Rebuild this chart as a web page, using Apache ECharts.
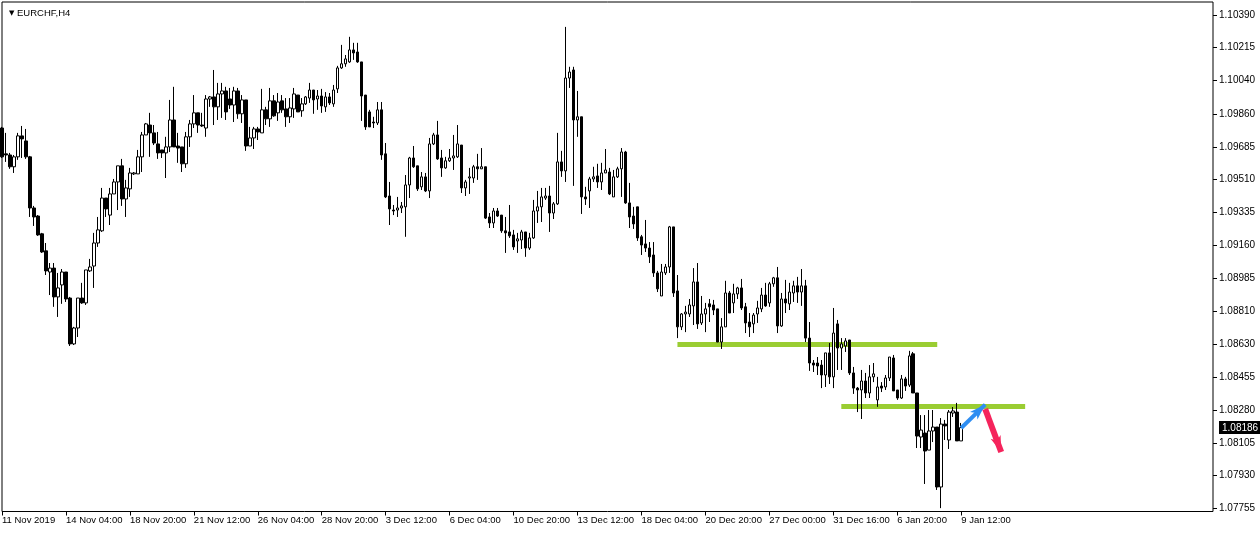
<!DOCTYPE html>
<html>
<head>
<meta charset="utf-8">
<script src="https://cdn.jsdelivr.net/npm/echarts@6/dist/echarts.min.js"></script>
<style>
html,body{margin:0;padding:0;background:#ffffff;}
#chart{width:1260px;height:533px;}
</style>
</head>
<body>
<div id="chart"></div>
<script>
// ---------------- data ----------------
const symbolName = 'EURCHF,H4';

const opens = [
1.09786,1.09648,1.09642,1.09579,1.09632,1.09744,1.09717,1.09632,1.09359,1.09316,
1.09221,1.09130,1.09017,1.09038,1.08884,1.08948,1.09017,1.08878,1.08633,1.08718,
1.08878,1.08852,1.09023,1.09049,1.09172,1.09237,1.09412,1.09321,1.09434,1.09498,
1.09584,1.09407,1.09461,1.09541,1.09541,1.09632,1.09749,1.09802,1.09760,1.09701,
1.09669,1.09653,1.09685,1.09829,1.09690,1.09685,1.09595,1.09739,1.09808,1.09867,
1.09802,1.09786,1.09941,1.09952,1.09899,1.09968,1.09984,1.09941,1.09909,1.09984,
1.09862,1.09936,1.09690,1.09733,1.09781,1.09760,1.09883,1.09835,1.09931,1.09867,
1.09931,1.09888,1.09846,1.09888,1.09962,1.09878,1.09915,1.09946,1.09989,1.09941,
1.09957,1.09899,1.09952,1.09915,1.09995,1.10107,1.10129,1.10139,1.10203,1.10192,
1.10139,1.09962,1.09872,1.09818,1.09813,1.09883,1.09648,1.09423,1.09348,1.09348,
1.09359,1.09365,1.09482,1.09626,1.09584,1.09472,1.09525,1.09450,1.09701,1.09749,
1.09626,1.09573,1.09611,1.09626,1.09632,1.09695,1.09466,1.09519,1.09519,1.09579,
1.09568,1.09579,1.09311,1.09279,1.09343,1.09321,1.09237,1.09231,1.09215,1.09183,
1.09188,1.09231,1.09145,1.09199,1.09343,1.09365,1.09412,1.09423,1.09332,1.09381,
1.09605,1.09557,1.10053,1.10096,1.09829,1.09846,1.09418,1.09450,1.09514,1.09530,
1.09498,1.09546,1.09551,1.09418,1.09525,1.09568,1.09658,1.09386,1.09316,1.09365,
1.09205,1.09167,1.09145,1.09108,1.09012,1.08889,1.09012,1.09044,1.09258,1.08916,
1.08724,1.08793,1.08793,1.08836,1.08964,1.08745,1.08793,1.08847,1.08841,1.08820,
1.08643,1.08724,1.08905,1.08852,1.08900,1.08932,1.08831,1.08750,1.08740,1.08793,
1.08820,1.08894,1.08852,1.08954,1.08986,1.08729,1.08873,1.08847,1.08905,1.08943,
1.08910,1.08943,1.08664,1.08531,1.08531,1.08520,1.08467,1.08585,1.08457,1.08740,
1.08611,1.08622,1.08654,1.08478,1.08397,1.08387,1.08435,1.08371,1.08457,1.08334,
1.08408,1.08403,1.08451,1.08558,1.08387,1.08344,1.08446,1.08413,1.08580,1.08371,
1.08136,1.08157,1.08066,1.08168,1.08189,1.07869,1.08205,1.08120,1.08264,1.08269,
1.08115
];

const closes = [
1.09632,1.09642,1.09579,1.09632,1.09744,1.09728,1.09632,1.09359,1.09311,1.09215,
1.09124,1.09023,1.09038,1.08884,1.08932,1.09017,1.08873,1.08633,1.08718,1.08878,
1.08852,1.09028,1.09044,1.09172,1.09242,1.09412,1.09354,1.09434,1.09498,1.09584,
1.09407,1.09466,1.09546,1.09546,1.09632,1.09749,1.09808,1.09760,1.09706,1.09653,
1.09653,1.09685,1.09829,1.09685,1.09679,1.09595,1.09739,1.09808,1.09867,1.09802,
1.09797,1.09941,1.09952,1.09899,1.09968,1.09984,1.09872,1.09909,1.09984,1.09862,
1.09936,1.09690,1.09733,1.09781,1.09765,1.09883,1.09835,1.09931,1.09851,1.09925,
1.09883,1.09846,1.09893,1.09968,1.09872,1.09915,1.09952,1.09989,1.09936,1.09957,
1.09904,1.09952,1.09920,1.09989,1.10107,1.10129,1.10155,1.10203,1.10187,1.10139,
1.09957,1.09792,1.09792,1.09813,1.09883,1.09642,1.09418,1.09354,1.09343,1.09359,
1.09370,1.09482,1.09626,1.09579,1.09461,1.09525,1.09450,1.09701,1.09749,1.09621,
1.09573,1.09611,1.09626,1.09637,1.09701,1.09466,1.09498,1.09525,1.09579,1.09568,
1.09579,1.09305,1.09279,1.09343,1.09316,1.09237,1.09226,1.09210,1.09151,1.09194,
1.09231,1.09145,1.09199,1.09343,1.09365,1.09418,1.09423,1.09332,1.09381,1.09605,
1.09557,1.10053,1.10085,1.09829,1.09846,1.09418,1.09407,1.09514,1.09525,1.09498,
1.09546,1.09562,1.09434,1.09525,1.09568,1.09658,1.09386,1.09311,1.09274,1.09199,
1.09161,1.09145,1.09098,1.09012,1.08927,1.09017,1.09044,1.09258,1.08905,1.08724,
1.08793,1.08803,1.08841,1.08964,1.08740,1.08793,1.08820,1.08831,1.08814,1.08643,
1.08724,1.08905,1.08798,1.08900,1.08932,1.08825,1.08745,1.08724,1.08787,1.08825,
1.08894,1.08836,1.08954,1.08986,1.08729,1.08873,1.08852,1.08910,1.08943,1.08910,
1.08943,1.08664,1.08531,1.08520,1.08515,1.08467,1.08585,1.08457,1.08691,1.08611,
1.08633,1.08649,1.08478,1.08397,1.08387,1.08435,1.08371,1.08457,1.08473,1.08403,
1.08397,1.08451,1.08563,1.08382,1.08344,1.08446,1.08408,1.08569,1.08371,1.08141,
1.08173,1.08061,1.08168,1.08189,1.07869,1.08205,1.08195,1.08269,1.08275,1.08115,
1.08186
];

const lows = [
1.09626,1.09605,1.09568,1.09546,1.09616,1.09626,1.09621,1.09311,1.09263,1.09210,
1.09119,1.09001,1.08894,1.08831,1.08777,1.08847,1.08857,1.08622,1.08627,1.08670,
1.08847,1.08841,1.09017,1.08932,1.09151,1.09231,1.09311,1.09268,1.09434,1.09348,
1.09370,1.09311,1.09418,1.09535,1.09541,1.09551,1.09749,1.09632,1.09695,1.09621,
1.09626,1.09519,1.09658,1.09685,1.09600,1.09551,1.09573,1.09685,1.09786,1.09760,
1.09792,1.09739,1.09899,1.09802,1.09829,1.09840,1.09829,1.09888,1.09818,1.09835,
1.09813,1.09664,1.09690,1.09674,1.09722,1.09760,1.09802,1.09792,1.09846,1.09824,
1.09867,1.09792,1.09813,1.09840,1.09872,1.09846,1.09909,1.09920,1.09862,1.09883,
1.09867,1.09872,1.09909,1.09899,1.09973,1.10102,1.10113,1.10134,1.10150,1.10134,
1.09824,1.09776,1.09792,1.09786,1.09802,1.09616,1.09412,1.09268,1.09321,1.09311,
1.09332,1.09205,1.09412,1.09573,1.09450,1.09455,1.09444,1.09412,1.09695,1.09616,
1.09525,1.09568,1.09605,1.09562,1.09626,1.09439,1.09423,1.09434,1.09493,1.09509,
1.09568,1.09300,1.09252,1.09252,1.09311,1.09226,1.09119,1.09199,1.09135,1.09119,
1.09140,1.09098,1.09135,1.09194,1.09279,1.09284,1.09402,1.09231,1.09300,1.09375,
1.09525,1.09498,1.10000,1.09477,1.09739,1.09327,1.09375,1.09359,1.09498,1.09466,
1.09455,1.09546,1.09428,1.09418,1.09519,1.09418,1.09381,1.09252,1.09247,1.09183,
1.09108,1.09124,1.09065,1.08991,1.08910,1.08889,1.09001,1.09012,1.08884,1.08664,
1.08707,1.08696,1.08777,1.08734,1.08713,1.08734,1.08696,1.08750,1.08787,1.08643,
1.08606,1.08724,1.08798,1.08798,1.08873,1.08814,1.08691,1.08670,1.08691,1.08745,
1.08803,1.08831,1.08831,1.08938,1.08691,1.08724,1.08798,1.08814,1.08857,1.08852,
1.08836,1.08643,1.08489,1.08483,1.08467,1.08397,1.08403,1.08419,1.08397,1.08494,
1.08494,1.08590,1.08467,1.08366,1.08269,1.08232,1.08344,1.08344,1.08429,1.08297,
1.08376,1.08387,1.08435,1.08382,1.08334,1.08339,1.08382,1.08403,1.08371,1.08077,
1.08077,1.07885,1.08066,1.08109,1.07853,1.07756,1.08120,1.08072,1.08243,1.08115,
1.08115
];

const highs = [
1.09792,1.09760,1.09653,1.09642,1.09760,1.09797,1.09781,1.09637,1.09370,1.09321,
1.09226,1.09172,1.09065,1.09065,1.09012,1.09033,1.09017,1.08884,1.08724,1.08878,
1.08959,1.09028,1.09087,1.09226,1.09311,1.09466,1.09412,1.09466,1.09514,1.09584,
1.09621,1.09509,1.09573,1.09551,1.09669,1.09765,1.09813,1.09867,1.09802,1.09765,
1.09669,1.09739,1.09936,1.10006,1.09760,1.09685,1.09765,1.09829,1.09962,1.09867,
1.09867,1.09962,1.09957,1.10096,1.10027,1.10027,1.10006,1.10000,1.10006,1.10000,
1.09962,1.09936,1.09792,1.09792,1.09792,1.09995,1.09899,1.10000,1.09962,1.09973,
1.09962,1.09946,1.09946,1.10000,1.09962,1.09946,1.09957,1.10027,1.09989,1.09989,
1.09995,1.09978,1.09973,1.10016,1.10118,1.10230,1.10176,1.10273,1.10241,1.10241,
1.10139,1.09962,1.09883,1.09846,1.09925,1.09925,1.09706,1.09498,1.09375,1.09418,
1.09391,1.09535,1.09632,1.09690,1.09584,1.09551,1.09546,1.09733,1.09760,1.09824,
1.09669,1.09632,1.09674,1.09749,1.09802,1.09695,1.09509,1.09573,1.09589,1.09648,
1.09679,1.09579,1.09332,1.09359,1.09359,1.09321,1.09311,1.09375,1.09242,1.09226,
1.09242,1.09231,1.09226,1.09402,1.09450,1.09466,1.09466,1.09477,1.09391,1.09760,
1.09664,1.10326,1.10113,1.10113,1.09984,1.09846,1.09472,1.09525,1.09579,1.09595,
1.09600,1.09674,1.09573,1.09562,1.09579,1.09679,1.09664,1.09493,1.09365,1.09365,
1.09215,1.09295,1.09177,1.09177,1.09023,1.09060,1.09060,1.09263,1.09258,1.09001,
1.08798,1.08836,1.08873,1.09038,1.09065,1.08889,1.08852,1.08873,1.08868,1.08820,
1.08771,1.08970,1.08916,1.08954,1.08938,1.08980,1.08852,1.08798,1.08798,1.08863,
1.08932,1.08959,1.08964,1.08991,1.09044,1.08905,1.08975,1.08959,1.08970,1.08991,
1.09033,1.08975,1.08750,1.08547,1.08563,1.08547,1.08585,1.08638,1.08825,1.08761,
1.08664,1.08664,1.08654,1.08510,1.08403,1.08494,1.08478,1.08520,1.08531,1.08457,
1.08429,1.08467,1.08563,1.08574,1.08387,1.08467,1.08457,1.08596,1.08590,1.08371,
1.08253,1.08253,1.08280,1.08280,1.08189,1.08237,1.08227,1.08280,1.08296,1.08318,
1.08211
];

// price scale tick labels (right side)
const priceTicks = [1.10390,1.10215,1.10040,1.09860,1.09685,1.09510,1.09335,1.09160,
                    1.08985,1.08810,1.08630,1.08455,1.08280,1.08105,1.07930,1.07755];
const lastPrice = 1.08186;

// time scale labels (one every 16 bars)
const timeLabels = ['11 Nov 2019','14 Nov 04:00','18 Nov 20:00','21 Nov 12:00','26 Nov 04:00',
  '28 Nov 20:00','3 Dec 12:00','6 Dec 04:00','10 Dec 20:00','13 Dec 12:00','18 Dec 04:00',
  '20 Dec 20:00','27 Dec 00:00','31 Dec 16:00','6 Jan 20:00','9 Jan 12:00'];
const barsPerLabel = 16;
const slotCount = 304; // bar slots visible on screen (incl. empty right margin)

// horizontal levels (bar index from, bar index to, price)
const levelStarts = [169, 210];
const levelEnds   = [234, 256];
const levelPrices = [1.08632, 1.08301];

// arrows [bar index, price]
const blueArrowFrom = [240, 1.08184];
const blueArrowTo   = [246, 1.08309];
const redArrowFrom  = [246, 1.08285];
const redArrowTo    = [250, 1.08056];

// ---------------- chart ----------------
const slots = Array.from({length: slotCount}, (_, i) => String(i));
const candles = opens.map((o, i) => [o, closes[i], lows[i], highs[i]]);
const font = '"Liberation Sans", Arial, sans-serif';
const showLabel = (idx) => idx % barsPerLabel === 0 && idx / barsPerLabel < timeLabels.length;

const chart = echarts.init(document.getElementById('chart'), null, {renderer: 'canvas'});
chart.setOption({
  animation: false,
  backgroundColor: '#ffffff',
  textStyle: {fontFamily: font},
  title: {
    text: '{tri|▼} ' + symbolName,
    left: 4, top: 3,
    textStyle: {
      fontSize: 9.5, fontWeight: 'normal', color: '#000', fontFamily: font,
      rich: {tri: {fontSize: 7, color: '#000', fontFamily: '"DejaVu Sans", sans-serif'}}
    }
  },
  grid: {
    left: 2, top: 2, width: 1211, height: 509.5,
    outerBoundsMode: 'none',
    containLabel: false,
    show: true, borderColor: '#000', borderWidth: 1, backgroundColor: '#ffffff'
  },
  xAxis: {
    type: 'category',
    data: slots,
    boundaryGap: false,
    axisLine: {show: false},
    axisTick: {show: true, interval: showLabel, length: 4, lineStyle: {color: '#000', width: 1}},
    axisLabel: {
      interval: showLabel,
      formatter: (v, idx) => timeLabels[Math.round(Number(v) / barsPerLabel)] || '',
      align: 'left', margin: 4, fontSize: 9.5, color: '#000', fontFamily: font
    },
    splitLine: {show: false}
  },
  yAxis: {
    type: 'value',
    position: 'right',
    min: 1.07738, max: 1.10459,
    axisLine: {show: false},
    splitLine: {show: false},
    axisTick: {show: true, customValues: priceTicks, length: 4, lineStyle: {color: '#000'}},
    axisLabel: {
      customValues: priceTicks.concat([lastPrice]),
      formatter: (v) => Math.abs(v - lastPrice) < 1e-7 ? '{cur|' + v.toFixed(5) + '}' : v.toFixed(5),
      margin: 6, fontSize: 10, color: '#000', fontFamily: font,
      rich: {cur: {backgroundColor: '#000', color: '#fff', fontSize: 10, fontFamily: font, padding: [2, 3, 1, 3]}}
    }
  },
  series: [
    {
      type: 'line',
      data: [],
      silent: true,
      z: 1,
      markLine: {
        silent: true, z: 1, symbol: ['none', 'none'], animation: false,
        label: {show: false},
        lineStyle: {color: '#9acd32', width: 5, type: 'solid'},
        emphasis: {disabled: true},
        data: levelPrices.map((p, k) => [{coord: [levelStarts[k], p]}, {coord: [levelEnds[k], p]}])
      }
    },
    {
      type: 'candlestick',
      data: candles,
      barWidth: 3,
      clip: false,
      z: 2,
      silent: true,
      itemStyle: {color: '#ffffff', color0: '#000000', borderColor: '#000000', borderColor0: '#000000', borderWidth: 1}
    },
    {
      type: 'line',
      data: [],
      silent: true,
      z: 5,
      markLine: {
        silent: true, z: 5, symbol: ['none', 'arrow'], animation: false,
        label: {show: false},
        emphasis: {disabled: true},
        lineStyle: {type: 'solid'},
        data: [
          [{coord: blueArrowFrom, lineStyle: {color: '#2f8ef2', width: 4, type: 'solid'}, symbolSize: [13, 13]},
           {coord: blueArrowTo}],
          [{coord: redArrowFrom, lineStyle: {color: '#f5245c', width: 6, type: 'solid'}, symbolSize: [18, 18]},
           {coord: redArrowTo}]
        ]
      }
    }
  ]
});
</script>
</body>
</html>
